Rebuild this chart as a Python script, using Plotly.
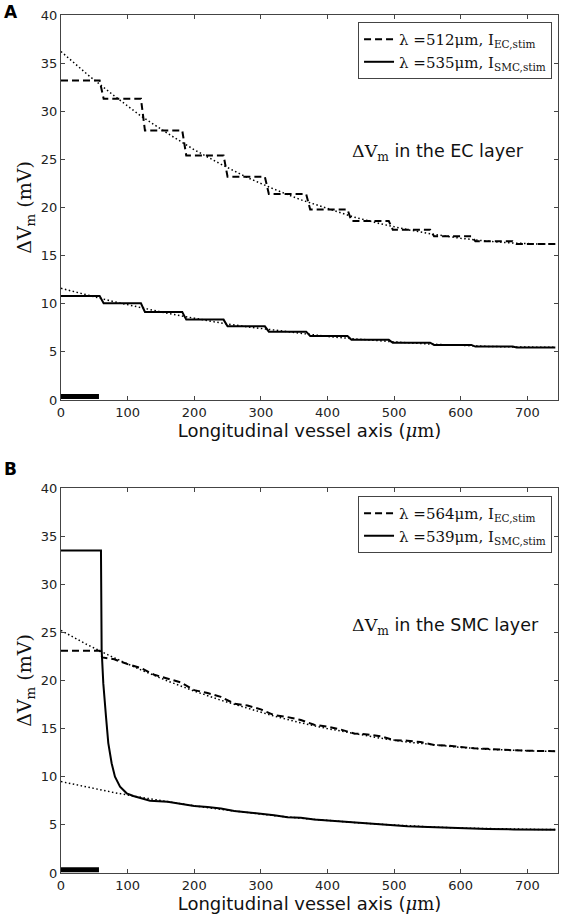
import plotly.graph_objects as go

# ---------------- data ----------------
# cell segments (µm) used by the step-like curves in panel A
seg_start = [0, 64, 126, 188, 250, 312, 374, 436, 498, 560, 622, 684]
seg_end = [58, 120, 182, 244, 306, 368, 430, 492, 554, 616, 678, 742]
ec_a_levels = [33.2, 31.3, 28.0, 25.4, 23.2, 21.4, 19.8, 18.6, 17.7, 17.0, 16.5, 16.2]
smc_a_levels = [10.8, 10.05, 9.15, 8.35, 7.65, 7.1, 6.65, 6.25, 5.95, 5.72, 5.55, 5.45]

# fitted (dotted) curves, read at 40 µm intervals
fit_x = [0, 40, 80, 120, 160, 200, 240, 280, 320, 360, 400, 440, 480, 520, 560, 600, 640, 680, 720, 742]
fit_ec_a = [36.2, 33.8, 31.6, 29.5, 27.7, 26.0, 24.5, 23.1, 21.9, 20.8, 19.9, 19.0, 18.3, 17.7, 17.2, 16.8, 16.5, 16.3, 16.2, 16.2]
fit_smc_a = [11.6, 10.9, 10.2, 9.6, 9.0, 8.5, 8.0, 7.6, 7.25, 6.9, 6.6, 6.35, 6.13, 5.94, 5.79, 5.66, 5.57, 5.51, 5.48, 5.47]
fit_ec_b = [25.2, 23.7, 22.35, 21.1, 19.95, 18.9, 17.95, 17.1, 16.3, 15.6, 15.0, 14.5, 14.0, 13.6, 13.3, 13.05, 12.85, 12.72, 12.66, 12.65]
fit_smc_b = [9.5, 8.9, 8.35, 7.86, 7.4, 6.98, 6.61, 6.27, 5.96, 5.69, 5.45, 5.24, 5.06, 4.9, 4.77, 4.67, 4.6, 4.55, 4.52, 4.52]

# panel B simulated curves
ec_b_x = [0, 58, 62, 80, 100, 120, 140, 160, 180, 200, 220, 240, 260, 280, 300, 320, 340, 360, 380, 400,
          420, 440, 460, 480, 500, 520, 540, 560, 580, 600, 620, 640, 660, 680, 700, 720, 742]
ec_b_y = [23.1, 23.1, 22.4, 22.2, 21.7, 21.3, 20.6, 20.2, 19.8, 19.0, 18.7, 18.3, 17.6, 17.4, 17.0, 16.4, 16.2, 15.9, 15.4, 15.2,
          14.9, 14.5, 14.4, 14.2, 13.8, 13.75, 13.6, 13.3, 13.25, 13.1, 12.95, 12.9, 12.8, 12.75, 12.7, 12.7, 12.65]
smc_b_x = [0, 58, 60, 61, 63.5, 67.6, 71, 76, 81, 88.6, 98.6, 108.6, 120, 133.6, 160, 180, 200, 220, 240, 260,
           280, 300, 320, 340, 360, 380, 400, 420, 440, 460, 480, 500, 520, 540, 560, 580, 600, 640, 680, 742]
smc_b_y = [33.5, 33.5, 33.5, 23.2, 19.7, 16.2, 13.5, 11.4, 10.0, 8.96, 8.28, 8.0, 7.8, 7.5, 7.4, 7.2, 6.95, 6.85, 6.7, 6.45,
           6.3, 6.2, 6.0, 5.8, 5.75, 5.55, 5.45, 5.35, 5.2, 5.15, 5.05, 4.95, 4.85, 4.8, 4.75, 4.7, 4.65, 4.58, 4.53, 4.5]

# stimulation site bar
stim_x = [0, 57]
stim_y = [0.35, 0.35]

x_ticks = [0, 100, 200, 300, 400, 500, 600, 700]
y_ticks = [0, 5, 10, 15, 20, 25, 30, 35, 40]

legend_a = ["λ =512μm, I<sub>EC,stim</sub>", "λ =535μm, I<sub>SMC,stim</sub>"]
legend_b = ["λ =564μm, I<sub>EC,stim</sub>", "λ =539μm, I<sub>SMC,stim</sub>"]


def steps(starts, ends, levels):
    xs, ys = [], []
    for s, e, v in zip(starts, ends, levels):
        xs += [s, e]
        ys += [v, v]
    return xs, ys


ec_a_x, ec_a_y = steps(seg_start, seg_end, ec_a_levels)
smc_a_x, smc_a_y = steps(seg_start, seg_end, smc_a_levels)

DOT = dict(color="black", width=1.5, dash="1.5px,2.5px")
DASH = dict(color="black", width=2, dash="7px,4px")
SOLID = dict(color="black", width=2)

fig = go.Figure()
# Panel A
fig.add_trace(go.Scatter(x=fit_x, y=fit_ec_a, mode="lines", line=DOT, showlegend=False, xaxis="x", yaxis="y"))
fig.add_trace(go.Scatter(x=fit_x, y=fit_smc_a, mode="lines", line=DOT, showlegend=False, xaxis="x", yaxis="y"))
fig.add_trace(go.Scatter(x=ec_a_x, y=ec_a_y, mode="lines", line=DASH, name=legend_a[0], legend="legend", xaxis="x", yaxis="y"))
fig.add_trace(go.Scatter(x=smc_a_x, y=smc_a_y, mode="lines", line=SOLID, name=legend_a[1], legend="legend", xaxis="x", yaxis="y"))
fig.add_trace(go.Scatter(x=stim_x, y=stim_y, mode="lines", line=dict(color="black", width=5), showlegend=False, xaxis="x", yaxis="y"))
# Panel B
fig.add_trace(go.Scatter(x=fit_x, y=fit_ec_b, mode="lines", line=DOT, showlegend=False, xaxis="x2", yaxis="y2"))
fig.add_trace(go.Scatter(x=fit_x, y=fit_smc_b, mode="lines", line=DOT, showlegend=False, xaxis="x2", yaxis="y2"))
fig.add_trace(go.Scatter(x=ec_b_x, y=ec_b_y, mode="lines", line=DASH, name=legend_b[0], legend="legend2", xaxis="x2", yaxis="y2"))
fig.add_trace(go.Scatter(x=smc_b_x, y=smc_b_y, mode="lines", line=SOLID, name=legend_b[1], legend="legend2", xaxis="x2", yaxis="y2"))
fig.add_trace(go.Scatter(x=stim_x, y=stim_y, mode="lines", line=dict(color="black", width=5), showlegend=False, xaxis="x2", yaxis="y2"))

tickfont = dict(family="DejaVu Sans", size=13, color="#222")
xtitle = "Longitudinal vessel axis (<span style='font-family:DejaVu Serif'><i>μ</i>m</span>)"
ytitle = "<span style='font-family:DejaVu Serif'>ΔV<sub>m</sub> (mV)</span>"

common_x = dict(range=[0, 746], tickvals=x_ticks, ticks="inside", ticklen=4, tickcolor="#444",
                showline=True, linecolor="#444", linewidth=1, mirror="allticks", showgrid=False,
                zeroline=False, tickfont=tickfont,
                title=dict(text=xtitle, font=dict(family="DejaVu Sans", size=18, color="#111"), standoff=2))
common_y = dict(range=[0, 40], tickvals=y_ticks, ticks="inside", ticklen=4, tickcolor="#444",
                showline=True, linecolor="#444", linewidth=1, mirror="allticks", showgrid=False,
                zeroline=False, tickfont=tickfont,
                title=dict(text=ytitle, font=dict(size=19, color="#111"), standoff=4))

legend_common = dict(bgcolor="white", bordercolor="#444", borderwidth=1,
                     font=dict(family="DejaVu Serif", size=15, color="#111"),
                     xanchor="right", yanchor="top", tracegroupgap=2)

fig.update_layout(
    width=562, height=914,
    margin=dict(l=61, r=4, t=15, b=41),
    plot_bgcolor="white", paper_bgcolor="white",
    xaxis=dict(domain=[0, 1], anchor="y", **common_x),
    yaxis=dict(domain=[0.5513, 1], anchor="x", **common_y),
    xaxis2=dict(domain=[0, 1], anchor="y2", **common_x),
    yaxis2=dict(domain=[0, 0.4487], anchor="x2", **common_y),
    legend=dict(x=0.988, y=0.9918, **legend_common),
    legend2=dict(x=0.988, y=0.4394, **legend_common),
    annotations=[
        dict(text="<span style='font-family:DejaVu Serif'>ΔV<sub>m</sub></span> in the EC layer",
             x=566, y=25.7, xref="x", yref="y", showarrow=False,
             font=dict(family="DejaVu Sans", size=17.5, color="#111")),
        dict(text="<span style='font-family:DejaVu Serif'>ΔV<sub>m</sub></span> in the SMC layer",
             x=577, y=25.6, xref="x2", yref="y2", showarrow=False,
             font=dict(family="DejaVu Sans", size=17.5, color="#111")),
        dict(text="<b>A</b>", x=-0.118, y=1.0035, xref="paper", yref="paper", xanchor="left",
             yanchor="middle", showarrow=False, font=dict(family="DejaVu Sans", size=17, color="black")),
        dict(text="<b>B</b>", x=-0.118, y=0.4709, xref="paper", yref="paper", xanchor="left",
             yanchor="middle", showarrow=False, font=dict(family="DejaVu Sans", size=17, color="black")),
    ],
)

fig.write_html("out.html", config={"displayModeBar": False},
               post_script="document.body.style.margin='0';document.body.style.overflow='hidden';")
